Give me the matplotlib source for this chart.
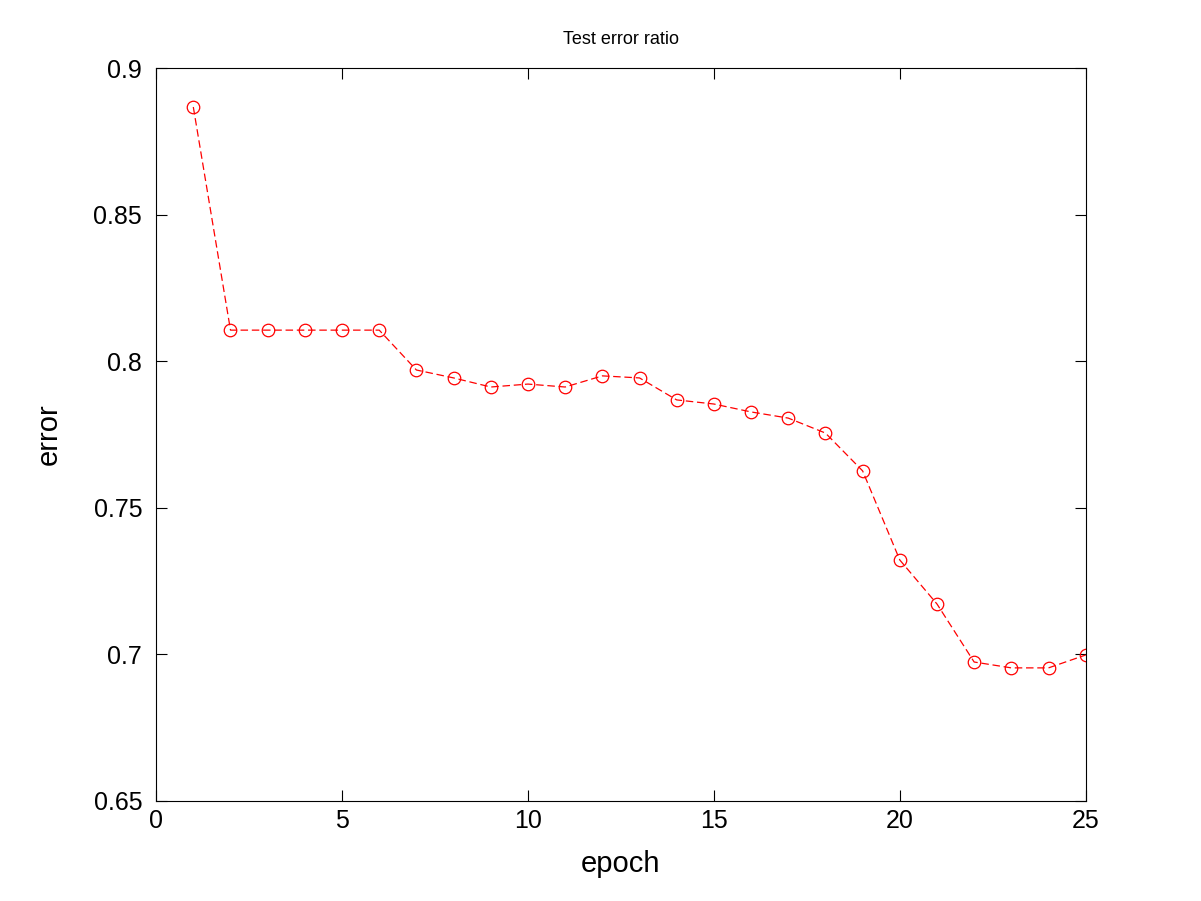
import matplotlib
matplotlib.use('Agg')
import matplotlib.pyplot as plt

# 数据
epoch = list(range(1, 26))
error = [0.8867, 0.8106, 0.8106, 0.8106, 0.8106, 0.8106, 0.7970, 0.7943, 0.7912, 0.7922,
         0.7912, 0.7950, 0.7943, 0.7868, 0.7854, 0.7827, 0.7806, 0.7755, 0.7626, 0.7322,
         0.7172, 0.6974, 0.6954, 0.6954, 0.6998]

plt.rcParams['font.family'] = ['Liberation Sans', 'DejaVu Sans']

fig = plt.figure(figsize=(12.01, 9.01), dpi=100)
ax = fig.add_axes([0.13, 0.111, 0.774, 0.8135])
ax.plot(epoch, error, 'r--', lw=0.9, dashes=(6, 3), marker='o', markersize=9,
        markerfacecolor='none', markeredgecolor='red', markeredgewidth=0.9)
ax.set_xlim(0, 25)
ax.set_ylim(0.65, 0.9)
ax.set_xticks([0, 5, 10, 15, 20, 25])
ax.set_yticks([0.65, 0.7, 0.75, 0.8, 0.85, 0.9])
ax.set_yticklabels(['0.65', '0.7', '0.75', '0.8', '0.85', '0.9'])
ax.tick_params(direction='in', top=True, right=True, labelsize=18, length=8, width=0.8)
ax.tick_params(axis='y', pad=10)
ax.tick_params(axis='x', pad=6)
for s in ax.spines.values():
    s.set_linewidth(0.8)
ax.set_xlabel('epoch', fontsize=21, labelpad=12)
ax.set_ylabel('error', fontsize=21, labelpad=22)
ax.set_title('Test error ratio', fontsize=13, pad=17)

fig.savefig('out.png')
